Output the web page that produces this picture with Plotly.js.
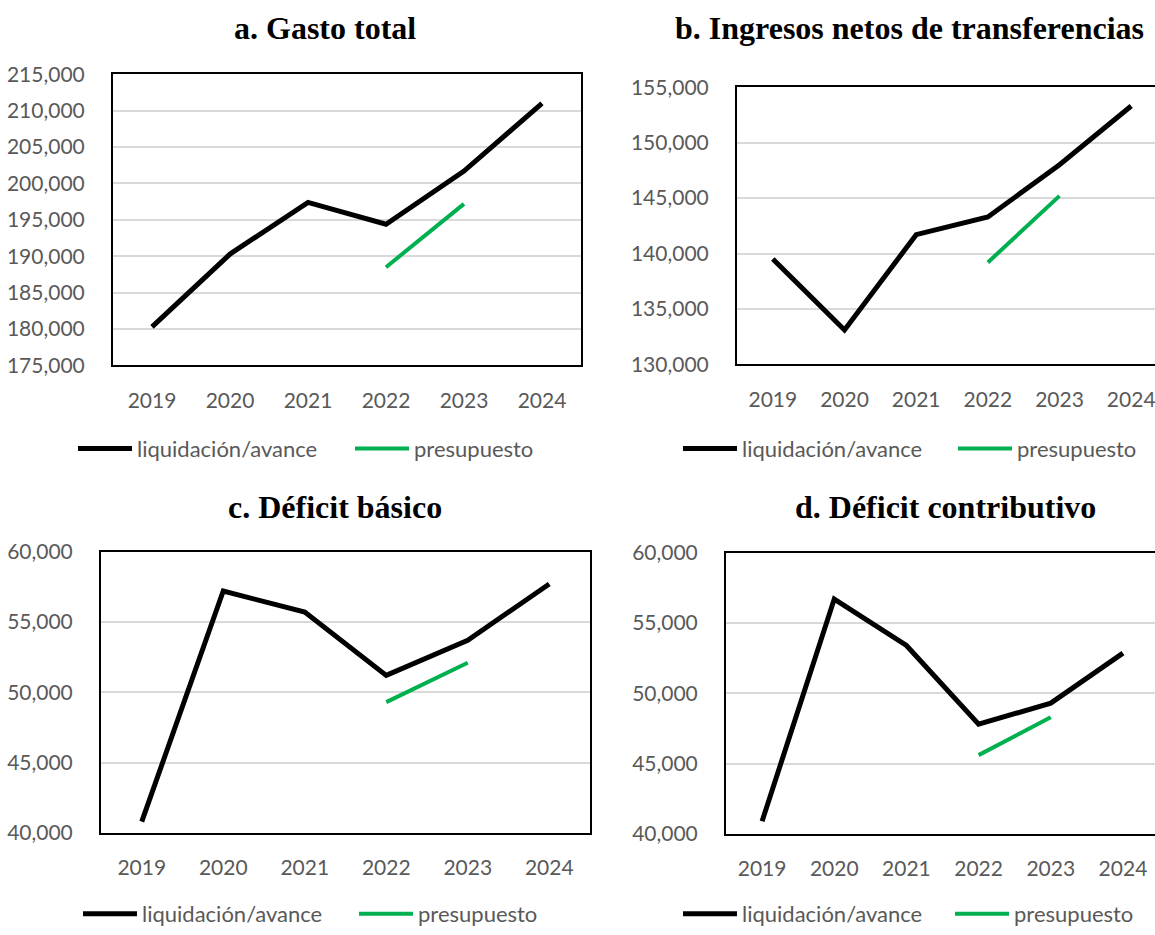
<!DOCTYPE html>
<html>
<head>
<meta charset="utf-8">
<script src="https://cdn.plot.ly/plotly-3.0.1.min.js"></script>
<style>html,body{margin:0;padding:0;background:#fff;overflow:hidden;}#chart{width:1155px;height:935px;}</style>
</head>
<body>
<div id="chart"></div>
<script>
// ---- data ----
const years = ['2019', '2020', '2021', '2022', '2023', '2024'];
const presYears = ['2022', '2023'];
const gastoLiq = [180300, 190300, 197400, 194400, 201700, 211000];
const gastoPres = [188500, 197200];
const ingresosLiq = [139500, 133100, 141700, 143300, 148000, 153300];
const ingresosPres = [139200, 145200];
const defBasicoLiq = [40800, 57200, 55700, 51200, 53700, 57700];
const defBasicoPres = [49300, 52100];
const defContribLiq = [40900, 56700, 53400, 47800, 49300, 52850];
const defContribPres = [45600, 48300];
const panelTitles = ['a. Gasto total', 'b. Ingresos netos de transferencias', 'c. Déficit básico', 'd. Déficit contributivo'];
const seriesNames = ['liquidación/avance', 'presupuesto'];

const W = 1155, H = 935;
const px = v => v / W;
const py = v => 1 - v / H;

const panels = [
  {liq: gastoLiq, pres: gastoPres, yr: [175000, 215000], box: [113, 581, 75, 369], xr: [-0.5, 5.5], mirrorY: true, title: [325, 28], legLiq: [73, 453], legPres: [350, 453]},
  {liq: ingresosLiq, pres: ingresosPres, yr: [130000, 155000], box: [737, 1155, 88, 368], xr: [-0.5, 5.332], mirrorY: false, title: [909, 28], legLiq: [678, 453], legPres: [953, 453]},
  {liq: defBasicoLiq, pres: defBasicoPres, yr: [40000, 60000], box: [101, 590, 557, 841], xr: [-0.5, 5.5], mirrorY: true, title: [335, 512], legLiq: [78, 923], legPres: [354, 923]},
  {liq: defContribLiq, pres: defContribPres, yr: [40000, 60000], box: [726, 1155, 558, 842], xr: [-0.5, 5.444], mirrorY: false, title: [945, 512], legLiq: [678, 923], legPres: [950, 923]}
];

const tickFont = {family: 'Lato, "Open Sans", sans-serif', size: 21, color: '#595959'};
const legendFont = {family: 'Lato, "Open Sans", sans-serif', size: 22, color: '#595959'};
const data = [];
const layout = {
  width: W, height: H,
  margin: {l: 0, r: 0, t: 0, b: 0},
  paper_bgcolor: '#ffffff', plot_bgcolor: '#ffffff',
  showlegend: true,
  annotations: [],
  separators: '.,'
};

function legendSpec(pos) {
  return {
    orientation: 'h', x: px(pos[0]), y: py(pos[1]),
    xanchor: 'left', yanchor: 'middle', xref: 'paper', yref: 'paper',
    font: legendFont, bgcolor: 'rgba(0,0,0,0)', borderwidth: 0,
    itemwidth: 54, itemclick: false, itemdoubleclick: false
  };
}

panels.forEach((p, i) => {
  const sfx = i === 0 ? '' : String(i + 1);
  const legA = 'legend' + (i === 0 ? '' : String(2 * i + 1));
  const legB = 'legend' + String(2 * i + 2);
  data.push({
    type: 'scatter', mode: 'lines', x: years, y: p.liq, name: seriesNames[0],
    xaxis: 'x' + sfx, yaxis: 'y' + sfx, legend: legA,
    line: {color: '#000000', width: 5}, hoverinfo: 'x+y'
  });
  data.push({
    type: 'scatter', mode: 'lines', x: presYears, y: p.pres, name: seriesNames[1],
    xaxis: 'x' + sfx, yaxis: 'y' + sfx, legend: legB,
    line: {color: '#00b050', width: 4}, hoverinfo: 'x+y'
  });
  layout['xaxis' + sfx] = {
    domain: [px(p.box[0]), px(p.box[1])],
    anchor: 'y' + sfx,
    type: 'category', categoryorder: 'array', categoryarray: years,
    range: p.xr,
    showgrid: false, zeroline: false,
    showline: true, linecolor: '#000000', linewidth: 2, mirror: true,
    ticks: '', tickfont: tickFont, ticklabelstandoff: 15,
    fixedrange: true
  };
  layout['yaxis' + sfx] = {
    domain: [py(p.box[3]), py(p.box[2])],
    anchor: 'x' + sfx,
    range: p.yr, dtick: 5000, tick0: 0, tickformat: ',d',
    showgrid: true, gridcolor: '#d9d9d9', gridwidth: 1.5,
    zeroline: false,
    showline: true, linecolor: '#000000', linewidth: 2, mirror: p.mirrorY,
    ticks: '', tickfont: tickFont, ticklabelstandoff: 22,
    fixedrange: true
  };
  layout[legA] = legendSpec(p.legLiq);
  layout[legB] = legendSpec(p.legPres);
  layout.annotations.push({
    text: '<b>' + panelTitles[i] + '</b>', xref: 'paper', yref: 'paper',
    x: px(p.title[0]), y: py(p.title[1]), xanchor: 'center', yanchor: 'middle',
    showarrow: false,
    font: {family: '"Liberation Serif", "Times New Roman", serif', size: 32, color: '#000000'}
  });
});

Plotly.newPlot('chart', data, layout, {displayModeBar: false});
</script>
</body>
</html>
